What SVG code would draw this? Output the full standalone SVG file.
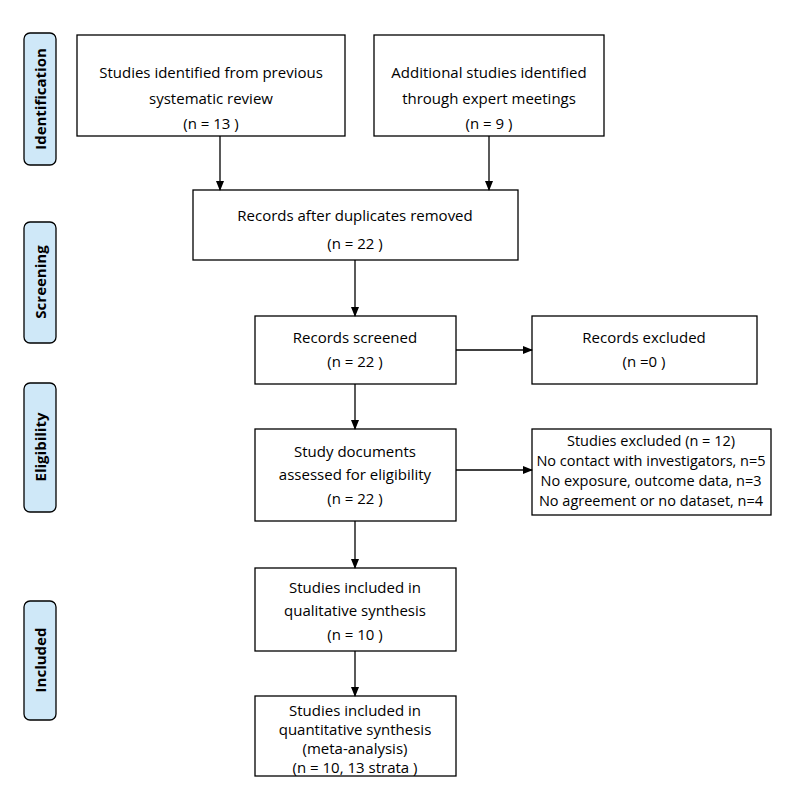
<svg xmlns="http://www.w3.org/2000/svg" width="810" height="800" viewBox="0 0 810 800">
<style>
.b{fill:#fff;stroke:#000;stroke-width:1.3}
.s{fill:#cfe8f8;stroke:#000;stroke-width:1.3}
text{font-family:"Open Sans","Liberation Sans",sans-serif;font-size:15px;text-anchor:middle;fill:#000}
.l{font-weight:bold;font-size:15px}
.x{font-size:14.5px}
.c line{stroke:#000;stroke-width:1.3;marker-end:url(#a)}
</style>
<defs><marker id="a" markerWidth="10" markerHeight="8" refX="9" refY="4" orient="auto" markerUnits="userSpaceOnUse"><path d="M0,0L10,4L0,8z"/></marker></defs>
<g id="stage-identification"><rect class="s" x="24" y="33" width="32" height="132" rx="6"/><text class="l" transform="translate(46,99) rotate(-90)">Identification</text></g>
<g id="stage-screening"><rect class="s" x="24" y="222" width="32" height="121" rx="6"/><text class="l" transform="translate(46,282) rotate(-90)">Screening</text></g>
<g id="stage-eligibility"><rect class="s" x="24" y="383" width="32" height="129" rx="6"/><text class="l" transform="translate(46,447) rotate(-90)">Eligibility</text></g>
<g id="stage-included"><rect class="s" x="24" y="601" width="32" height="119" rx="6"/><text class="l" transform="translate(46,660) rotate(-90)">Included</text></g>
<g id="n1"><rect class="b" x="77" y="35" width="268" height="101"/><text x="211" y="78">Studies identified from previous</text><text x="211" y="104">systematic review</text><text x="211" y="129">(n = 13 )</text></g>
<g id="n2"><rect class="b" x="374" y="35" width="230" height="101"/><text x="489" y="78">Additional studies identified</text><text x="489" y="104">through expert meetings</text><text x="489" y="129">(n = 9 )</text></g>
<g id="n3"><rect class="b" x="193" y="190" width="325" height="70"/><text x="355" y="221">Records after duplicates removed</text><text x="355" y="249">(n = 22 )</text></g>
<g id="n4"><rect class="b" x="255" y="316" width="201" height="68"/><text x="355" y="343">Records screened</text><text x="355" y="367">(n = 22 )</text></g>
<g id="n5"><rect class="b" x="532" y="316" width="225" height="68"/><text x="644" y="343">Records excluded</text><text x="644" y="367">(n =0 )</text></g>
<g id="n6"><rect class="b" x="255" y="429" width="201" height="92"/><text x="355" y="457">Study documents</text><text x="355" y="480">assessed for eligibility</text><text x="355" y="504">(n = 22 )</text></g>
<g id="n7"><rect class="b" x="532" y="429" width="239" height="86"/><text class="x" x="651" y="446">Studies  excluded (n = 12)</text><text class="x" x="651" y="466">No contact with investigators, n=5</text><text class="x" x="651" y="486">No exposure, outcome data, n=3</text><text class="x" x="651" y="506">No agreement or no dataset, n=4</text></g>
<g id="n8"><rect class="b" x="255" y="568" width="201" height="83"/><text x="355" y="593">Studies included in</text><text x="355" y="616">qualitative synthesis</text><text x="355" y="640">(n = 10 )</text></g>
<g id="n9"><rect class="b" x="255" y="696" width="201" height="80"/><text x="355" y="716">Studies included in</text><text x="355" y="735">quantitative synthesis</text><text x="355" y="754">(meta-analysis)</text><text x="355" y="773">(n = 10, 13 strata )</text></g>
<g class="c" id="connectors">
<line x1="220" y1="136" x2="220" y2="190"/><line x1="489" y1="136" x2="489" y2="190"/>
<line x1="355" y1="260" x2="355" y2="316"/><line x1="456" y1="350" x2="532" y2="350"/>
<line x1="355" y1="384" x2="355" y2="429"/><line x1="456" y1="470" x2="532" y2="470"/>
<line x1="355" y1="521" x2="355" y2="568"/><line x1="355" y1="651" x2="355" y2="696"/>
</g>
</svg>
